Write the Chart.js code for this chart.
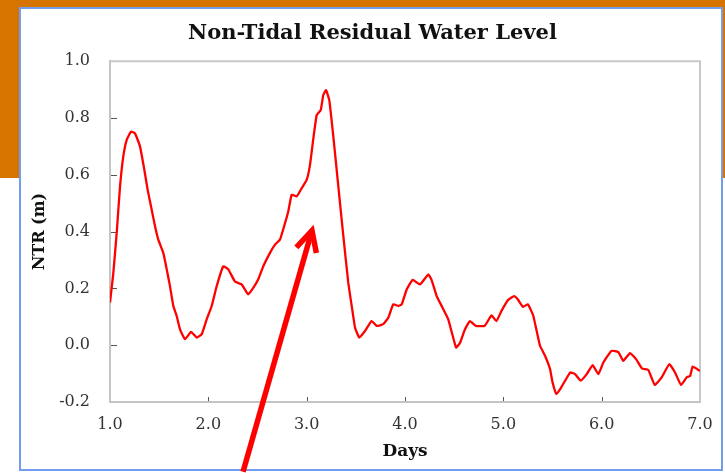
<!DOCTYPE html>
<html>
<head>
<meta charset="utf-8">
<script src="https://cdn.jsdelivr.net/npm/chart.js@4.4.1/dist/chart.umd.min.js"></script>
<style>
  html, body { margin: 0; padding: 0; width: 725px; height: 473px; overflow: hidden; background: #ffffff; }
  .band { position: absolute; background: #d67400; }
  #box { position: absolute; left: 19px; top: 7px; width: 700px; height: 460px;
         border: 2px solid #729ef2; background: #ffffff; }
  #wrap { position: absolute; left: 0; top: 0; width: 725px; height: 473px; }
</style>
</head>
<body>
<div class="band" style="left:0;top:0;width:725px;height:8px"></div>
<div class="band" style="left:0;top:0;width:20px;height:178px"></div>
<div class="band" style="left:721px;top:0;width:4px;height:178px"></div>
<div id="box"></div>
<div id="wrap"><canvas id="chart"></canvas></div>
<script>
// Non-tidal residual (NTR) water level over a week of record
const days = [
  1.000, 1.034, 1.068, 1.102, 1.135, 1.170, 1.214, 1.254, 1.305, 1.349,
  1.383, 1.424, 1.458, 1.491, 1.542, 1.577, 1.610, 1.644, 1.678, 1.712,
  1.763, 1.824, 1.882, 1.933, 1.983, 2.034, 2.085, 2.152, 2.203, 2.271,
  2.339, 2.406, 2.457, 2.508, 2.559, 2.627, 2.678, 2.729, 2.780, 2.813,
  2.848, 2.899, 2.950, 3.000, 3.034, 3.068, 3.102, 3.143, 3.169, 3.197,
  3.230, 3.271, 3.322, 3.373, 3.423, 3.468, 3.492, 3.535, 3.593, 3.661,
  3.712, 3.779, 3.830, 3.881, 3.932, 3.967, 4.017, 4.078, 4.153, 4.237,
  4.270, 4.322, 4.373, 4.440, 4.519, 4.560, 4.610, 4.660, 4.720, 4.810,
  4.880, 4.930, 4.980, 5.050, 5.110, 5.150, 5.200, 5.250, 5.305, 5.373,
  5.424, 5.475, 5.500, 5.540, 5.590, 5.680, 5.730, 5.787, 5.848, 5.909,
  5.966, 6.017, 6.100, 6.170, 6.220, 6.288, 6.350, 6.410, 6.474, 6.540,
  6.610, 6.688, 6.746, 6.807, 6.865, 6.900, 6.926, 6.983, 7.000
];
const ntr = [
  0.150, 0.255, 0.395, 0.559, 0.664, 0.723, 0.752, 0.746, 0.700, 0.618,
  0.547, 0.477, 0.419, 0.372, 0.325, 0.267, 0.208, 0.138, 0.103, 0.056,
  0.021, 0.047, 0.027, 0.039, 0.091, 0.138, 0.208, 0.278, 0.267, 0.224,
  0.214, 0.179, 0.202, 0.232, 0.278, 0.325, 0.354, 0.372, 0.430, 0.471,
  0.530, 0.524, 0.553, 0.582, 0.635, 0.728, 0.810, 0.828, 0.881, 0.898,
  0.863, 0.735, 0.559, 0.384, 0.220, 0.115, 0.062, 0.027, 0.050, 0.085,
  0.068, 0.074, 0.097, 0.144, 0.138, 0.144, 0.196, 0.230, 0.214, 0.249,
  0.230, 0.173, 0.138, 0.091, -0.008, 0.009, 0.056, 0.085, 0.068, 0.068,
  0.105, 0.085, 0.120, 0.160, 0.173, 0.160, 0.135, 0.144, 0.103, -0.002,
  -0.037, -0.084, -0.130, -0.172, -0.148, -0.096, -0.102, -0.125, -0.102, -0.070,
  -0.102, -0.061, -0.020, -0.024, -0.055, -0.028, -0.049, -0.082, -0.087, -0.140,
  -0.113, -0.067, -0.096, -0.140, -0.113, -0.108, -0.075, -0.087, -0.090
];
const xTickValues = [1, 2, 3, 4, 5, 6, 7];
const yTickValues = [-0.2, 0.0, 0.2, 0.4, 0.6, 0.8, 1.0];

const chartTitle = 'Non-Tidal Residual Water Level';
const xTitle = 'Days';
const yTitle = 'NTR (m)';

const SERIF = "'DejaVu Serif', 'Liberation Serif', serif";
const fmt = v => (Math.abs(v) < 1e-9 ? 0 : v).toFixed(1);

// Light frame on the top and right, short inward tick marks, and the call-out arrow
const decorations = {
  id: 'decorations',
  beforeDatasetsDraw(chart) {
    const { ctx, chartArea: a, scales: { x, y } } = chart;
    ctx.save();
    ctx.strokeStyle = '#c8c8c8';
    ctx.lineWidth = 2;
    ctx.beginPath();
    ctx.moveTo(a.left, a.top);
    ctx.lineTo(a.right, a.top);
    ctx.lineTo(a.right, a.bottom);
    ctx.stroke();

    ctx.strokeStyle = '#555555';
    ctx.lineWidth = 1;
    ctx.beginPath();
    y.ticks.forEach(t => {
      if (t.value <= y.min || t.value >= y.max) return;
      const py = Math.round(y.getPixelForValue(t.value)) + 0.5;
      ctx.moveTo(a.left + 1, py);
      ctx.lineTo(a.left + 7, py);
    });
    x.ticks.forEach(t => {
      if (t.value <= x.min || t.value >= x.max) return;
      const px = Math.round(x.getPixelForValue(t.value)) + 0.5;
      ctx.moveTo(px, a.bottom - 1);
      ctx.lineTo(px, a.bottom - 5);
    });
    ctx.stroke();
    ctx.restore();
  },
  afterDraw(chart, args, opts) {
    const { ctx, scales: { x, y } } = chart;
    const x0 = x.getPixelForValue(opts.from[0]), y0 = y.getPixelForValue(opts.from[1]);
    const x1 = x.getPixelForValue(opts.to[0]), y1 = y.getPixelForValue(opts.to[1]);
    const ang = Math.atan2(y0 - y1, x0 - x1);
    const head = 23, spread = 0.47;
    ctx.save();
    ctx.strokeStyle = opts.color;
    ctx.lineWidth = opts.width;
    ctx.lineCap = 'butt';
    ctx.lineJoin = 'miter';
    ctx.beginPath();
    ctx.moveTo(x0, y0);
    ctx.lineTo(x1, y1);
    ctx.stroke();
    ctx.beginPath();
    ctx.moveTo(x1 + head * Math.cos(ang - spread), y1 + head * Math.sin(ang - spread));
    ctx.lineTo(x1, y1);
    ctx.lineTo(x1 + head * Math.cos(ang + spread), y1 + head * Math.sin(ang + spread));
    ctx.stroke();
    ctx.restore();
  }
};

new Chart(document.getElementById('chart'), {
  type: 'line',
  data: {
    datasets: [{
      label: yTitle,
      data: days.map((d, i) => ({ x: d, y: ntr[i] })),
      borderColor: '#ff0000',
      borderWidth: 2.3,
      pointRadius: 0,
      tension: 0.12,
      fill: false
    }]
  },
  options: {
    responsive: true,
    maintainAspectRatio: false,
    animation: false,
    layout: { padding: { left: 20, right: 0, top: 14, bottom: 0 } },
    plugins: {
      legend: { display: false },
      tooltip: { enabled: false },
      title: {
        display: true,
        text: chartTitle,
        color: '#111111',
        font: { family: SERIF, size: 21, weight: 'bold' },
        padding: { top: 7, bottom: 15 }
      },
      decorations: { from: [2.353, -0.446], to: [3.054, 0.404], color: '#ff0000', width: 5.5 }
    },
    scales: {
      x: {
        type: 'linear',
        min: 1, max: 7,
        afterBuildTicks: s => { s.ticks = xTickValues.map(v => ({ value: v })); },
        ticks: { callback: fmt, color: '#333333', padding: 13, maxRotation: 0,
                 font: { family: SERIF, size: 16 } },
        grid: { display: false, drawTicks: false },
        border: { color: '#c4c4c4', width: 2 },
        title: { display: true, text: xTitle, color: '#111111',
                 font: { family: SERIF, size: 17, weight: 'bold' },
                 padding: { top: 4, bottom: 11 } },
        afterFit: s => { s.paddingRight = 25; s.height = 71; }
      },
      y: {
        min: -0.2, max: 1.0,
        afterBuildTicks: s => { s.ticks = yTickValues.map(v => ({ value: v })); },
        ticks: { callback: fmt, color: '#333333', padding: 20,
                 font: { family: SERIF, size: 16 } },
        grid: { display: false, drawTicks: false },
        border: { color: '#c4c4c4', width: 2 },
        title: { display: true, text: yTitle, color: '#111111',
                 font: { family: SERIF, size: 16, weight: 'bold' },
                 padding: { top: 10, bottom: 0 } },
        afterFit: s => { s.width = 90; }
      }
    }
  },
  plugins: [decorations]
});
</script>
</body>
</html>
